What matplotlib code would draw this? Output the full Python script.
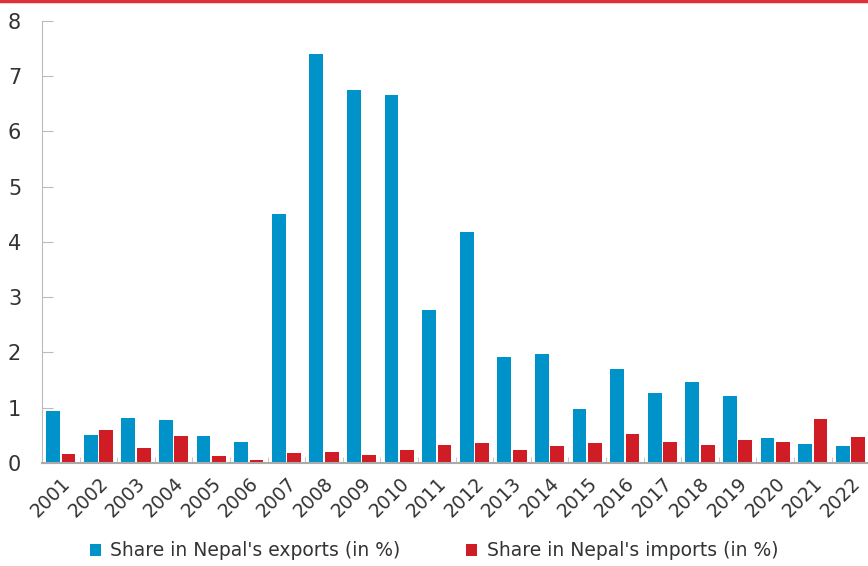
import matplotlib.pyplot as plt
import matplotlib.lines as mlines
import numpy as np

# data
years = [str(y) for y in range(2001, 2023)]
exports = [0.94, 0.51, 0.81, 0.78, 0.49, 0.38, 4.51, 7.40, 6.75, 6.66, 2.77,
           4.18, 1.92, 1.97, 0.98, 1.70, 1.27, 1.47, 1.21, 0.45, 0.34, 0.31]
imports = [0.16, 0.60, 0.27, 0.49, 0.13, 0.05, 0.18, 0.20, 0.14, 0.24, 0.33,
           0.36, 0.24, 0.31, 0.36, 0.53, 0.38, 0.33, 0.42, 0.38, 0.80, 0.47]

blue = "#0093C9"
red = "#D01C24"

fig = plt.figure(figsize=(8.68, 5.66), dpi=100)
ax = fig.add_axes([0.0484, 0.182, 0.953, 0.781])

x = np.arange(len(years))
w = 0.37
ax.bar(x - 0.205, exports, width=w, color=blue, label="Share in Nepal's exports (in %)")
ax.bar(x + 0.205, imports, width=w, color=red, label="Share in Nepal's imports (in %)")

ax.set_xlim(-0.5, len(years) - 0.5)
ax.set_ylim(0, 8)
ax.set_yticks(range(0, 9))
ax.tick_params(axis="y", direction="in", length=8, color="#BBBBBB", labelsize=15,
               labelcolor="#333333", pad=15)

# category labels centred, boundary ticks between categories
ax.set_xticks(x)
ax.set_xticklabels(years, rotation=45, ha="right", rotation_mode="anchor",
                   fontsize=13.5, color="#333333")
ax.tick_params(axis="x", length=0, pad=8)
ax.set_xticks(np.arange(-0.5, len(years), 1), minor=True)
ax.tick_params(axis="x", which="minor", direction="in", length=4, color="#BBBBBB")

for s in ["top", "right"]:
    ax.spines[s].set_visible(False)
ax.spines["left"].set_color("#BBBBBB")
ax.spines["bottom"].set_color("#AAAAAA")
ax.spines["bottom"].set_linewidth(1.5)

fig.legend(loc="center", bbox_to_anchor=(0.5, 0.027), ncol=2, frameon=False,
           fontsize=13.5, handlelength=0.6, handleheight=0.6, handletextpad=0.5,
           columnspacing=3.5, labelcolor="#333333")

# red rule across the top
fig.add_artist(mlines.Line2D([0, 1], [0.999, 0.999], color="#E0303A", lw=2.5,
                             transform=fig.transFigure))

plt.savefig("out.png", dpi=100)
